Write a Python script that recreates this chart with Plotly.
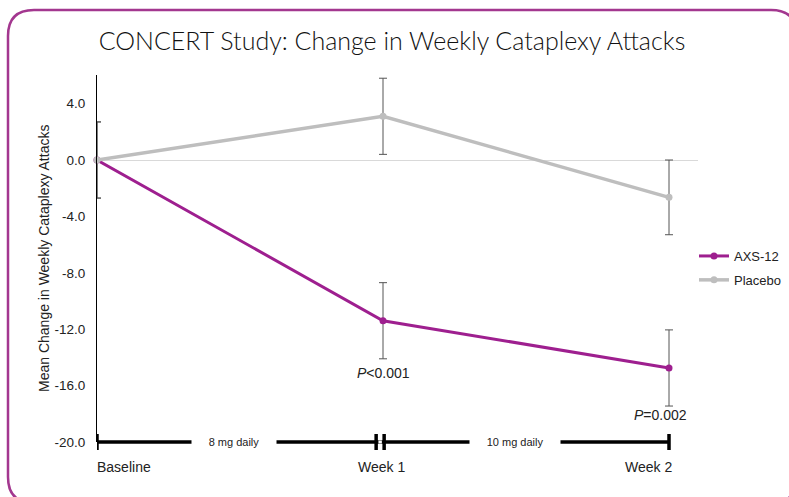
import plotly.graph_objects as go

# ---- data ----
timepoints = [0, 1, 2]
timepoint_labels = ["Baseline", "Week 1", "Week 2"]
axs12_mean = [0.0, -11.4, -14.75]
axs12_err = [2.7, 2.7, 2.7]
placebo_mean = [0.0, 3.1, -2.65]
placebo_err = [2.7, 2.7, 2.65]
y_ticks = [4, 0, -4, -8, -12, -16, -20]
p_labels = ["<i>P</i><0.001", "<i>P</i>=0.002"]
dose_labels = ["8 mg daily", "10 mg daily"]

W, H = 789, 497
L, R, T, B = 97, 91, 75, 55
PW, PH = W - L - R, H - T - B


def px2paper(x, y):
    return (x - L) / PW, (H - B - y) / PH


PURPLE = "#9E1F8F"
GRAY = "#BEBEBE"
ERR = "#555555"
FONT = "Liberation Sans, Arial, sans-serif"

fig = go.Figure()
fig.add_trace(go.Scatter(
    x=timepoints, y=axs12_mean, name="AXS-12", mode="lines+markers",
    line=dict(color=PURPLE, width=3), marker=dict(color=PURPLE, size=7),
    error_y=dict(type="data", array=axs12_err, color=ERR, thickness=1, width=4),
    legendgroup="a", cliponaxis=False,
))
fig.add_trace(go.Scatter(
    x=timepoints, y=placebo_mean, name="Placebo", mode="lines+markers",
    line=dict(color=GRAY, width=3.5), marker=dict(color=GRAY, size=7),
    error_y=dict(type="data", array=placebo_err, color=ERR, thickness=1, width=4),
    legendgroup="b", cliponaxis=False,
))

shapes = []
# bottom custom axis
ax_y = 0
shapes.append(dict(type="line", xref="x", yref="paper", x0=timepoints[0], x1=timepoints[2],
                   y0=ax_y, y1=ax_y, line=dict(color="black", width=3.5), layer="above"))
cap = 8 / PH
for xc in [timepoints[0], timepoints[2], 0.976, 1.004]:
    shapes.append(dict(type="line", xref="x", yref="paper", x0=xc, x1=xc,
                       y0=ax_y - cap, y1=ax_y + cap, line=dict(color="black", width=3.5), layer="above"))
# white gap between the break marks
shapes.append(dict(type="rect", xref="x", yref="paper", x0=0.984, x1=0.996,
                   y0=ax_y - 0.004, y1=ax_y + 0.004, line=dict(width=0), fillcolor="white", layer="above"))

# rounded border
x0, y0 = px2paper(8, 10)
x1, y1 = px2paper(797, 503)
rx, ry = 26 / PW, 26 / PH
path = (f"M {x0+rx},{y0} L {x1-rx},{y0} Q {x1},{y0} {x1},{y0-ry} "
        f"L {x1},{y1+ry} Q {x1},{y1} {x1-rx},{y1} L {x0+rx},{y1} Q {x0},{y1} {x0},{y1+ry} "
        f"L {x0},{y0-ry} Q {x0},{y0} {x0+rx},{y0} Z")
shapes.append(dict(type="path", xref="paper", yref="paper", path=path,
                   line=dict(color="#A3378F", width=2.5)))

annotations = []
# dose labels (white background covers the axis line)
for xd, txt in zip([0.48, 1.46], dose_labels):
    annotations.append(dict(x=xd, y=ax_y, xref="x", yref="paper", text=txt, showarrow=False,
                            font=dict(family=FONT, size=11, color="#222"), bgcolor="white",
                            borderpad=0, xanchor="center", yanchor="middle",
                            width=len(txt) * 6.2 + 22))
# x labels
lab_y = px2paper(0, 467)[1]
annotations.append(dict(x=timepoints[0], y=lab_y, xref="x", yref="paper", text=timepoint_labels[0],
                        showarrow=False, xanchor="left", yanchor="middle", xshift=-2,
                        font=dict(family=FONT, size=14, color="#222")))
annotations.append(dict(x=timepoints[1], y=lab_y, xref="x", yref="paper", text=timepoint_labels[1],
                        showarrow=False, xanchor="center", yanchor="middle", xshift=-2,
                        font=dict(family=FONT, size=14, color="#222")))
annotations.append(dict(x=timepoints[2], y=lab_y, xref="x", yref="paper", text=timepoint_labels[2],
                        showarrow=False, xanchor="right", yanchor="middle", xshift=5,
                        font=dict(family=FONT, size=14, color="#222")))
# p values
annotations.append(dict(x=timepoints[1], y=-15.1, xref="x", yref="y", text=p_labels[0], showarrow=False,
                        font=dict(family=FONT, size=14, color="#222")))
annotations.append(dict(x=1.97, y=-18.1, xref="x", yref="y", text=p_labels[1], showarrow=False,
                        font=dict(family=FONT, size=14, color="#222")))
# y title
yx, yy = px2paper(44, 259)
annotations.append(dict(x=yx, y=yy, xref="paper", yref="paper", text="Mean Change in Weekly Cataplexy Attacks",
                        textangle=-90, showarrow=False, xanchor="center", yanchor="middle",
                        font=dict(family=FONT, size=14, color="#222")))

fig.update_layout(
    width=W, height=H, margin=dict(l=L, r=R, t=T, b=B, autoexpand=False),
    paper_bgcolor="white", plot_bgcolor="white",
    title=dict(text="CONCERT Study: Change in Weekly Cataplexy Attacks", x=392 / W, xanchor="center",
               y=1 - 41 / H, yanchor="middle", yref="container",
               font=dict(family="Lato, sans-serif", size=25, color="#111", weight=300)),
    xaxis=dict(range=[0, PW / 286], visible=False, fixedrange=True),
    yaxis=dict(range=[-20, PH / 14.1 - 20], tickvals=y_ticks,
               ticktext=[f"{v:.1f}" for v in y_ticks], showgrid=False,
               showline=True, linecolor="black", linewidth=1, ticks="",
               zeroline=True, zerolinecolor="#D9D9D9", zerolinewidth=1,
               ticklabelstandoff=8, tickfont=dict(family=FONT, size=13.5, color="#222")),
    shapes=shapes, annotations=annotations,
    legend=dict(x=px2paper(694, 0)[0], y=px2paper(0, 241)[1], xanchor="left", yanchor="top",
                font=dict(family=FONT, size=13, color="#222"), tracegroupgap=4,
                bgcolor="rgba(0,0,0,0)"),
    showlegend=True,
)

fig.write_html("out.html", config={"displayModeBar": False},
               post_script="document.body.style.margin='0px';document.body.style.overflow='hidden';")
